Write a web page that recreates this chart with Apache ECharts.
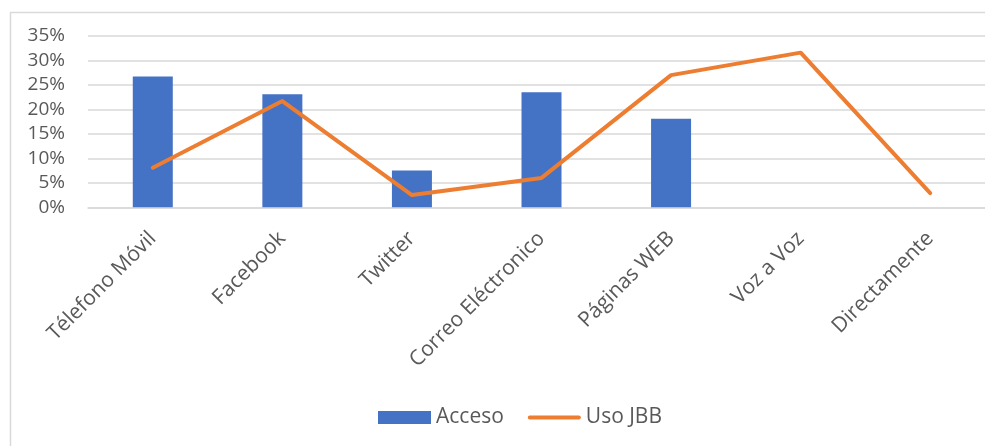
<!DOCTYPE html>
<html>
<head>
<meta charset="utf-8">
<script src="https://cdn.jsdelivr.net/npm/echarts@6/dist/echarts.min.js"></script>
<style>
  html, body { margin: 0; padding: 0; background: #ffffff; }
  #chart { width: 985px; height: 446px; }
</style>
</head>
<body>
<div id="chart"></div>
<script>
// Canales: acceso y uso JBB (porcentajes)
const categories = ['Télefono Móvil', 'Facebook', 'Twitter', 'Correo Eléctronico', 'Páginas WEB', 'Voz a Voz', 'Directamente'];
const acceso = [26.7, 23.1, 7.5, 23.5, 18.1, null, null];
const usoJBB = [8.1, 21.7, 2.5, 6.0, 27.0, 31.6, 2.9];
const yTicks = { min: 0, max: 35, interval: 5 };

const labelColor = '#595959';
const gridColor = '#d9d9d9';
const fontFamily = '"Open Sans", "Noto Sans", sans-serif';

const chart = echarts.init(document.getElementById('chart'), null, { renderer: 'canvas' });

chart.setOption({
  animation: false,
  backgroundColor: '#ffffff',
  graphic: [{
    type: 'rect',
    left: 8, top: 10,
    shape: { width: 1100, height: 500 },
    style: { fill: 'none', stroke: '#d9d9d9', lineWidth: 1.5 },
    silent: true,
    z: -1
  }],
  // plot area runs a little past the right edge of the canvas
  grid: { left: 88, width: 907, top: 36, height: 171.3, containLabel: false, outerBoundsMode: 'none' },
  legend: {
    left: 373,
    top: 402,
    itemWidth: 53,
    itemHeight: 13,
    itemGap: 24,
    textStyle: { color: labelColor, fontSize: 21, fontFamily: fontFamily },
    data: [
      { name: 'Acceso', icon: 'rect' },
      { name: 'Uso JBB', icon: 'path://M2,0 L51,0 A2,2 0 0 1 51,4 L2,4 A2,2 0 0 1 2,0 Z' }
    ]
  },
  xAxis: {
    type: 'category',
    data: categories,
    boundaryGap: true,
    axisLine: { show: true, lineStyle: { color: gridColor, width: 1.5 } },
    axisTick: { show: false },
    axisLabel: {
      rotate: 45,
      margin: 28,
      interval: 0,
      color: labelColor,
      fontSize: 21,
      fontFamily: fontFamily
    }
  },
  yAxis: {
    type: 'value',
    min: yTicks.min,
    max: yTicks.max,
    interval: yTicks.interval,
    axisLine: { show: false },
    axisTick: { show: false },
    splitLine: { lineStyle: { color: gridColor, width: 1.5 } },
    axisLabel: {
      formatter: v => v + '%',
      margin: 23,
      color: labelColor,
      fontSize: 19,
      fontFamily: fontFamily
    }
  },
  series: [
    {
      name: 'Acceso',
      type: 'bar',
      data: acceso,
      barWidth: 40,
      itemStyle: { color: '#4472C4' }
    },
    {
      name: 'Uso JBB',
      type: 'line',
      data: usoJBB,
      symbol: 'none',
      lineStyle: { color: '#ED7D31', width: 4, cap: 'round', join: 'round' },
      itemStyle: { color: '#ED7D31' }
    }
  ]
});
</script>
</body>
</html>
